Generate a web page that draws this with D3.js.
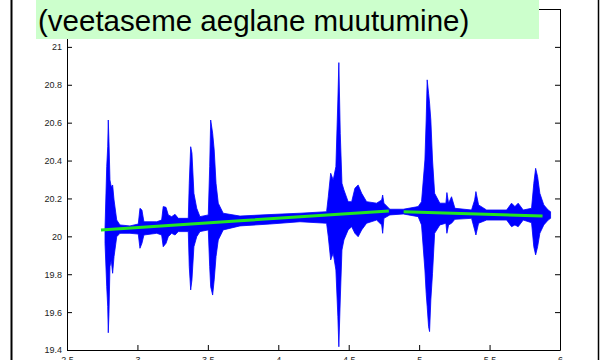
<!DOCTYPE html>
<html>
<head>
<meta charset="utf-8">
<script src="https://cdn.jsdelivr.net/npm/d3@7"></script>
<style>
    body { margin: 0; background: #fff; }
    svg { display: block; }
    .axis text { font-family: "Liberation Sans", Arial, sans-serif; font-size: 9px; fill: #222; }
    .axis path, .axis line { stroke: #000; }
</style>
</head>
<body>
<script>
// signal envelope (time, upper, lower)
var sigX = [2.770, 2.782, 2.789, 2.793, 2.798, 2.805, 2.814, 2.824, 2.834, 2.853,
    2.876, 2.947, 3.006, 3.018, 3.032, 3.046, 3.137, 3.172, 3.183, 3.203,
    3.219, 3.243, 3.267, 3.290, 3.361, 3.368, 3.378, 3.387, 3.401, 3.421,
    3.444, 3.503, 3.513, 3.520, 3.534, 3.545, 3.558, 3.574, 3.609, 3.728,
    3.941, 4.154, 4.343, 4.355, 4.372, 4.390, 4.409, 4.423, 4.430, 4.440,
    4.452, 4.466, 4.496, 4.521, 4.544, 4.567, 4.592, 4.627, 4.698, 4.734,
    4.741, 4.750, 4.792, 4.887, 4.993, 5.017, 5.041, 5.050, 5.057, 5.067,
    5.074, 5.083, 5.095, 5.110, 5.147, 5.190, 5.197, 5.209, 5.230, 5.254,
    5.372, 5.394, 5.403, 5.422, 5.479, 5.621, 5.656, 5.680, 5.703, 5.739,
    5.798, 5.814, 5.827, 5.841, 5.857, 5.885, 5.916, 5.933];
var sigHi = [20.043, 20.368, 20.473, 20.614, 20.500, 20.298, 20.262, 20.271, 20.192, 20.086,
    20.060, 20.055, 20.065, 20.148, 20.139, 20.077, 20.077, 20.086, 20.157, 20.153,
    20.113, 20.104, 20.116, 20.095, 20.095, 20.280, 20.473, 20.439, 20.227, 20.148,
    20.104, 20.113, 20.368, 20.614, 20.544, 20.456, 20.280, 20.175, 20.122, 20.107,
    20.115, 20.122, 20.130, 20.209, 20.333, 20.298, 20.368, 20.720, 20.917, 20.544,
    20.280, 20.245, 20.183, 20.183, 20.254, 20.271, 20.227, 20.183, 20.175, 20.192,
    20.218, 20.175, 20.143, 20.143, 20.157, 20.183, 20.403, 20.614, 20.826, 20.755,
    20.703, 20.614, 20.403, 20.227, 20.175, 20.175, 20.231, 20.175, 20.209, 20.148,
    20.139, 20.192, 20.236, 20.166, 20.139, 20.139, 20.175, 20.157, 20.175, 20.139,
    20.148, 20.280, 20.359, 20.315, 20.227, 20.166, 20.139, 20.130];
var sigLo = [19.963, 19.734, 19.629, 19.491, 19.594, 19.840, 19.875, 19.805, 19.893, 19.998,
    20.016, 20.016, 20.012, 19.937, 19.963, 20.007, 20.016, 20.007, 19.945, 19.963,
    19.998, 20.016, 20.007, 20.025, 20.025, 19.840, 19.717, 19.770, 19.945, 19.998,
    20.025, 20.034, 19.840, 19.734, 19.690, 19.770, 19.893, 19.981, 20.034, 20.055,
    20.065, 20.077, 20.069, 19.998, 19.875, 19.911, 19.822, 19.576, 19.417, 19.664,
    19.928, 19.981, 20.034, 20.051, 20.016, 19.998, 20.034, 20.069, 20.086, 20.060,
    20.016, 20.095, 20.113, 20.118, 20.104, 20.060, 19.822, 19.699, 19.629, 19.523,
    19.497, 19.664, 19.805, 20.016, 20.060, 20.069, 20.016, 20.060, 20.069, 20.090,
    20.095, 20.034, 20.007, 20.069, 20.086, 20.086, 20.051, 20.060, 20.051, 20.086,
    20.072, 19.945, 19.902, 19.945, 20.016, 20.060, 20.086, 20.095];

// slow water level trend (green), two pieces
var trendAX = [2.741, 3.728, 4.785];
var trendAY = [20.034, 20.082, 20.134];
var trendBX = [4.890, 5.876];
var trendBY = [20.130, 20.107];

var xTicks = [2.5, 3, 3.5, 4, 4.5, 5, 5.5, 6];
var xTickLabels = ["2.5", "3", "3.5", "4", "4.5", "5", "5.5", "6"];
// 21.2 tick sits under the title box, its label is not shown
var yTicks = [19.4, 19.6, 19.8, 20, 20.2, 20.4, 20.6, 20.8, 21, 21.2];
var yTickLabels = ["19.4", "19.6", "19.8", "20", "20.2", "20.4", "20.6", "20.8", "21", ""];

var title = "(veetaseme aeglane muutumine)";

var W = 600, H = 360;
var margin = {top: 9, right: 40, bottom: 10, left: 67},
    width = W - margin.left - margin.right,
    height = H - margin.top - margin.bottom;

var svg = d3.select("body").append("svg")
    .attr("width", W)
    .attr("height", H);

// slide frame lines
svg.append("line").attr("x1", 11.5).attr("x2", 11.5).attr("y1", 0).attr("y2", H)
    .attr("stroke", "#000").attr("stroke-width", 2);
svg.append("line").attr("x1", 598.5).attr("x2", 598.5).attr("y1", 0).attr("y2", H)
    .attr("stroke", "#000").attr("stroke-width", 1.5);

var g = svg.append("g")
    .attr("transform", "translate(" + margin.left + "," + margin.top + ")");

var xScale = d3.scaleLinear().domain([2.5, 6]).range([0, width]);
var yScale = d3.scaleLinear().domain([19.4, 21.2]).range([height, 0]);

var sig = sigX.map(function(d, i) { return {x: d, hi: sigHi[i], lo: sigLo[i]}; });

var area = d3.area()
    .x(function(d) { return xScale(d.x); })
    .y0(function(d) { return yScale(d.lo); })
    .y1(function(d) { return yScale(d.hi); });

g.append("path")
    .datum(sig)
    .attr("d", area)
    .attr("fill", "#0000ff")
    .attr("stroke", "#0000ff")
    .attr("stroke-width", 0.8)
    .attr("stroke-linejoin", "round");

var line = d3.line()
    .x(function(d) { return xScale(d[0]); })
    .y(function(d) { return yScale(d[1]); });

[[trendAX, trendAY], [trendBX, trendBY]].forEach(function(t) {
    g.append("path")
        .datum(d3.zip(t[0], t[1]))
        .attr("d", line)
        .attr("fill", "none")
        .attr("stroke", "#22e622")
        .attr("stroke-width", 3);
});

// axes, ticks inward like matlab
g.append("g")
    .attr("class", "axis")
    .call(d3.axisLeft(yScale).tickValues(yTicks)
        .tickFormat(function(d, i) { return yTickLabels[i]; })
        .tickSize(-5).tickSizeOuter(0).tickPadding(5));

g.append("g")
    .attr("class", "axis")
    .attr("transform", "translate(" + width + ",0)")
    .call(d3.axisRight(yScale).tickValues(yTicks).tickFormat("")
        .tickSize(-5).tickSizeOuter(0));

g.append("g")
    .attr("class", "axis")
    .attr("transform", "translate(0," + height + ")")
    .call(d3.axisBottom(xScale).tickValues(xTicks)
        .tickFormat(function(d, i) { return xTickLabels[i]; })
        .tickSize(-5).tickSizeOuter(0).tickPadding(7));

g.append("g")
    .attr("class", "axis")
    .call(d3.axisTop(xScale).tickValues(xTicks).tickFormat("")
        .tickSize(-5).tickSizeOuter(0));

// title box
svg.append("rect")
    .attr("x", 36).attr("y", 0)
    .attr("width", 503).attr("height", 39)
    .attr("fill", "#ccffcc");

svg.append("text")
    .attr("x", 38).attr("y", 31)
    .attr("font-family", "'Liberation Sans', Arial, sans-serif")
    .attr("font-size", "29.5px")
    .attr("fill", "#000")
    .text(title);
</script>
</body>
</html>
